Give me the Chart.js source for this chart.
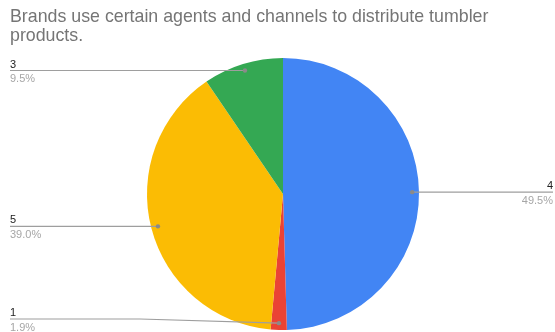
<!DOCTYPE html>
<html>
<head>
    <title>Tumbler distribution channels</title>
    <script src="https://cdn.jsdelivr.net/npm/chart.js"></script>
    <style>
        body { margin: 0; background: #fff; }
    </style>
</head>
<body>
    <canvas id="channelsChart" width="555" height="332"></canvas>
    <script>
        // Slice data, clockwise from 12 o'clock
        const categories = ['4', '1', '5', '3'];
        const percentages = [49.5, 1.9, 39.0, 9.5];
        const titleLines = ['Brands use certain agents and channels to distribute tumbler', 'products.'];

        const sliceColors = ['#4285f4', '#ea4335', '#fbbc04', '#34a853'];
        const fontFamily = '"Liberation Sans", Arial, sans-serif';

        // Title plus leader-line labels on the outside of the pie
        const calloutPlugin = {
            id: 'callouts',
            afterDatasetsDraw(chart) {
                const ctx = chart.ctx;
                const W = chart.width, H = chart.height;
                ctx.save();

                ctx.fillStyle = '#757575';
                ctx.font = '17.8px ' + fontFamily;
                ctx.textBaseline = 'alphabetic';
                ctx.textAlign = 'left';
                ctx.fillText(titleLines[0], 10, 22);
                ctx.fillText(titleLines[1], 10, 41);

                const arcs = chart.getDatasetMeta(0).data;
                arcs.forEach((arc, i) => {
                    const mid = (arc.startAngle + arc.endAngle) / 2;
                    const r = arc.outerRadius * 0.95;
                    const dx = arc.x + Math.cos(mid) * r;
                    const dy = arc.y + Math.sin(mid) * r;
                    const left = dx < arc.x;
                    const ly = Math.min(dy, H - 13);
                    const x0 = left ? 10 : W - 2;

                    ctx.strokeStyle = '#9e9e9e';
                    ctx.lineWidth = 1.2;
                    ctx.beginPath();
                    ctx.moveTo(x0, ly);
                    if (Math.abs(ly - dy) > 0.5) {
                        ctx.lineTo(140, ly);
                    }
                    ctx.lineTo(dx, dy);
                    ctx.stroke();

                    ctx.fillStyle = '#8a8a8a';
                    ctx.beginPath();
                    ctx.arc(dx, dy, 2.2, 0, Math.PI * 2);
                    ctx.fill();

                    ctx.textAlign = left ? 'left' : 'right';
                    ctx.font = '11px ' + fontFamily;
                    ctx.fillStyle = '#222222';
                    ctx.textBaseline = 'alphabetic';
                    ctx.fillText(categories[i], x0, ly - 3);
                    ctx.fillStyle = '#a6a6a6';
                    ctx.textBaseline = 'top';
                    ctx.fillText(percentages[i].toFixed(1) + '%', x0, ly + 3);
                });
                ctx.restore();
            }
        };

        const ctx = document.getElementById('channelsChart').getContext('2d');
        new Chart(ctx, {
            type: 'pie',
            data: {
                labels: categories,
                datasets: [{
                    data: percentages,
                    backgroundColor: sliceColors,
                    borderWidth: 0
                }]
            },
            options: {
                responsive: false,
                animation: false,
                layout: {
                    padding: { top: 58, bottom: 2, left: 147, right: 136 }
                },
                plugins: {
                    legend: { display: false },
                    tooltip: { enabled: false }
                }
            },
            plugins: [calloutPlugin]
        });
    </script>
</body>
</html>
